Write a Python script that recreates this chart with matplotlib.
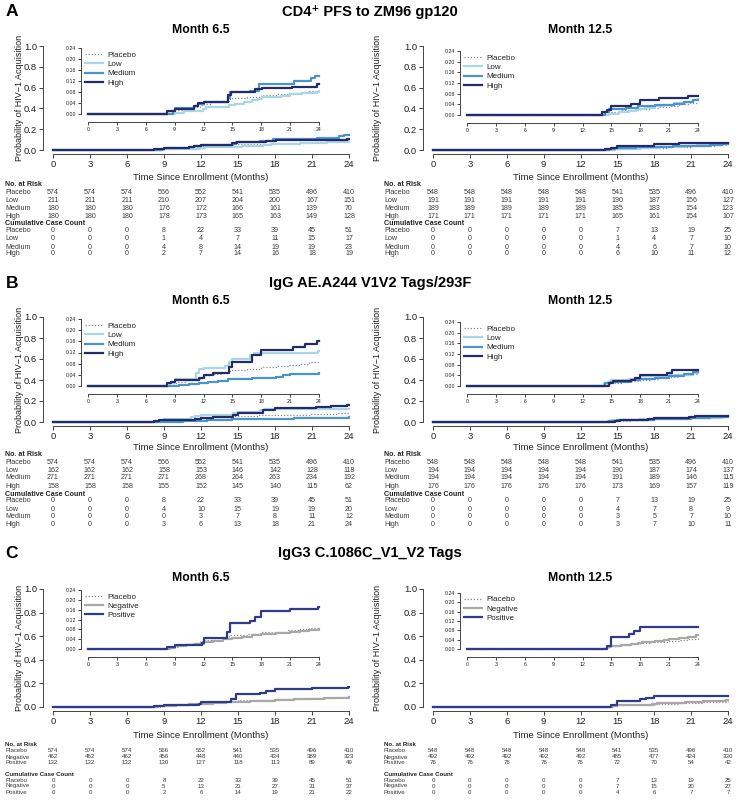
import matplotlib
matplotlib.use("Agg")
import matplotlib.pyplot as plt
from matplotlib.lines import Line2D
from matplotlib.transforms import blended_transform_factory

plt.rcParams['font.family'] = ['Liberation Sans', 'DejaVu Sans']

# ---------------- data ----------------
months = [0, 3, 6, 9, 12, 15, 18, 21, 24]
dose_groups = ['Placebo', 'Low', 'Medium', 'High']
tag_groups = ['Placebo', 'Negative', 'Positive']

# placebo curves (shared by all panels)
plac65_t = [0, 8.3, 8.8, 9.3, 10.2, 11.0, 11.6, 12.0, 12.8, 13.8, 14.6, 15.0, 16.5, 18.0, 19.5, 20.8, 22.0, 23.0, 24.0]
plac65_p = [0, 0.004, 0.009, 0.014, 0.020, 0.026, 0.032, 0.038, 0.044, 0.049, 0.055, 0.058, 0.062, 0.068, 0.071, 0.076, 0.080, 0.085, 0.089]
plac125_t = [0, 14.2, 14.6, 15.0, 16.0, 17.0, 18.0, 19.0, 20.0, 21.0, 22.0, 23.0, 24.0]
plac125_p = [0, 0.004, 0.009, 0.013, 0.017, 0.020, 0.024, 0.028, 0.031, 0.035, 0.040, 0.045, 0.049]

# panel A, month 6.5
a65_low_t = [0, 9.0, 10.0, 11.9, 12.3, 14.6, 15.3, 16.2, 17.0, 17.7, 18.1, 20.0, 21.0, 22.2, 23.8, 24.0]
a65_low_p = [0, 0.005, 0.010, 0.020, 0.026, 0.031, 0.036, 0.042, 0.050, 0.056, 0.061, 0.066, 0.071, 0.076, 0.081, 0.085]
a65_med_t = [0, 8.8, 9.0, 11.0, 11.4, 12.0, 14.5, 14.8, 16.8, 17.8, 21.4, 23.2, 23.6, 24.0]
a65_med_p = [0, 0.010, 0.022, 0.030, 0.036, 0.045, 0.058, 0.080, 0.085, 0.110, 0.120, 0.130, 0.140, 0.140]
a65_high_t = [0, 8.2, 9.0, 11.0, 11.4, 12.0, 14.5, 14.9, 17.3, 18.1, 21.2, 23.8, 24.0]
a65_high_p = [0, 0.010, 0.020, 0.030, 0.040, 0.045, 0.068, 0.080, 0.090, 0.095, 0.100, 0.110, 0.110]
# panel A, month 12.5
a125_low_t = [0, 14.8, 15.8, 16.8, 17.6, 18.5, 19.5, 20.5, 21.5, 22.5, 23.5, 24.0]
a125_low_p = [0, 0.005, 0.010, 0.016, 0.021, 0.027, 0.033, 0.038, 0.044, 0.050, 0.056, 0.060]
a125_med_t = [0, 14.3, 14.8, 16.5, 17.8, 19.5, 21.5, 22.5, 23.5, 24.0]
a125_med_p = [0, 0.010, 0.021, 0.026, 0.032, 0.037, 0.042, 0.048, 0.055, 0.058]
a125_high_t = [0, 14.0, 14.5, 15.0, 17.0, 18.0, 20.0, 23.0, 24.0]
a125_high_p = [0, 0.010, 0.020, 0.035, 0.040, 0.058, 0.065, 0.072, 0.072]

# panel B, month 6.5
b65_low_t = [0, 8.5, 9.0, 11.2, 11.5, 12.0, 14.2, 14.6, 15.0, 16.8, 17.2, 23.9, 24.0]
b65_low_p = [0, 0.012, 0.025, 0.045, 0.060, 0.065, 0.070, 0.085, 0.095, 0.110, 0.120, 0.125, 0.125]
b65_med_t = [0, 9.5, 10.5, 11.5, 12.5, 13.5, 14.5, 17.0, 19.5, 20.3, 21.0, 24.0]
b65_med_p = [0, 0.004, 0.008, 0.011, 0.015, 0.019, 0.026, 0.030, 0.034, 0.038, 0.042, 0.046]
b65_high_t = [0, 8.2, 8.6, 9.0, 11.5, 12.0, 13.0, 14.6, 15.0, 17.0, 18.0, 21.3, 22.5, 23.8, 24.0]
b65_high_p = [0, 0.010, 0.015, 0.020, 0.030, 0.038, 0.045, 0.068, 0.085, 0.110, 0.130, 0.140, 0.150, 0.160, 0.160]
# panel B, month 12.5
b125_low_t = [0, 14.2, 14.6, 15.0, 16.8, 17.5, 18.0, 21.0, 23.5, 24.0]
b125_low_p = [0, 0.010, 0.016, 0.021, 0.026, 0.031, 0.036, 0.042, 0.048, 0.048]
b125_med_t = [0, 14.3, 15.0, 17.0, 18.0, 19.5, 21.0, 22.5, 23.5, 24.0]
b125_med_p = [0, 0.010, 0.015, 0.021, 0.026, 0.031, 0.037, 0.044, 0.052, 0.055]
b125_high_t = [0, 14.8, 15.2, 17.0, 17.5, 18.0, 20.8, 21.3, 24.0]
b125_high_p = [0, 0.010, 0.017, 0.023, 0.030, 0.042, 0.050, 0.060, 0.060]

# panel C, month 6.5
c65_neg_t = [0, 8.5, 9.0, 10.0, 11.0, 12.0, 13.0, 14.0, 15.0, 16.0, 17.0, 18.0, 19.5, 21.0, 22.0, 23.0, 24.0]
c65_neg_p = [0, 0.006, 0.011, 0.016, 0.022, 0.028, 0.034, 0.040, 0.046, 0.050, 0.055, 0.060, 0.064, 0.069, 0.074, 0.079, 0.083]
c65_pos_t = [0, 8.2, 9.0, 11.8, 12.0, 14.4, 14.8, 16.8, 17.3, 18.0, 21.0, 23.9, 24.0]
c65_pos_p = [0, 0.008, 0.015, 0.023, 0.046, 0.068, 0.107, 0.115, 0.132, 0.155, 0.163, 0.172, 0.172]
# panel C, month 12.5
c125_neg_t = [0, 14.5, 15.0, 16.0, 17.0, 17.8, 18.2, 19.5, 20.5, 21.0, 22.0, 23.0, 23.8, 24.0]
c125_neg_p = [0, 0.007, 0.014, 0.017, 0.020, 0.026, 0.031, 0.035, 0.040, 0.042, 0.047, 0.052, 0.058, 0.058]
c125_pos_t = [0, 14.5, 15.0, 16.8, 17.3, 18.0, 24.0]
c125_pos_p = [0, 0.013, 0.053, 0.066, 0.079, 0.093, 0.093]

# number at risk / cumulative case counts
plac65_risk = [574, 574, 574, 566, 552, 541, 535, 496, 410]
plac65_case = [0, 0, 0, 8, 22, 33, 39, 45, 51]
plac125_risk = [548, 548, 548, 548, 548, 541, 535, 496, 410]
plac125_case = [0, 0, 0, 0, 0, 7, 13, 19, 25]

a65_risk = {'Low': [211, 211, 211, 210, 207, 204, 200, 167, 151],
            'Medium': [180, 180, 180, 176, 172, 166, 161, 139, 70],
            'High': [180, 180, 180, 178, 173, 165, 163, 149, 128]}
a65_case = {'Low': [0, 0, 0, 1, 4, 7, 11, 15, 17],
            'Medium': [0, 0, 0, 4, 8, 14, 19, 19, 23],
            'High': [0, 0, 0, 2, 7, 14, 16, 18, 19]}
a125_risk = {'Low': [191, 191, 191, 191, 191, 190, 187, 156, 127],
             'Medium': [189, 189, 189, 189, 189, 185, 183, 154, 123],
             'High': [171, 171, 171, 171, 171, 165, 161, 154, 107]}
a125_case = {'Low': [0, 0, 0, 0, 0, 1, 4, 7, 10],
             'Medium': [0, 0, 0, 0, 0, 4, 6, 7, 10],
             'High': [0, 0, 0, 0, 0, 6, 10, 11, 12]}
b65_risk = {'Low': [162, 162, 162, 158, 153, 146, 142, 128, 118],
            'Medium': [271, 271, 271, 271, 268, 264, 263, 234, 192],
            'High': [158, 158, 158, 155, 152, 145, 140, 115, 62]}
b65_case = {'Low': [0, 0, 0, 4, 10, 15, 19, 19, 20],
            'Medium': [0, 0, 0, 0, 3, 7, 8, 11, 12],
            'High': [0, 0, 0, 3, 6, 13, 18, 21, 24]}
b125_risk = {'Low': [194, 194, 194, 194, 194, 190, 187, 174, 137],
             'Medium': [194, 194, 194, 194, 194, 191, 189, 146, 115],
             'High': [176, 176, 176, 176, 176, 173, 169, 157, 119]}
b125_case = {'Low': [0, 0, 0, 0, 0, 4, 7, 8, 9],
             'Medium': [0, 0, 0, 0, 0, 3, 5, 7, 10],
             'High': [0, 0, 0, 0, 0, 3, 7, 10, 11]}
c65_risk = {'Negative': [462, 462, 462, 456, 448, 440, 434, 389, 323],
            'Positive': [132, 132, 132, 130, 127, 118, 113, 89, 49]}
c65_case = {'Negative': [0, 0, 0, 5, 13, 21, 27, 31, 37],
            'Positive': [0, 0, 0, 2, 6, 14, 19, 21, 22]}
c125_risk = {'Negative': [492, 492, 492, 492, 492, 485, 477, 424, 330],
             'Positive': [76, 76, 76, 76, 76, 72, 70, 54, 42]}
c125_case = {'Negative': [0, 0, 0, 0, 0, 7, 15, 20, 27],
             'Positive': [0, 0, 0, 0, 0, 4, 6, 7, 7]}

styles = {
    'Placebo': dict(color='#8a8a8a', lw=0.9, ls=(0, (1, 1.5))),
    'Low': dict(color='#a9d6e8', lw=1.6, ls='-'),
    'Medium': dict(color='#4b94cb', lw=1.6, ls='-'),
    'High': dict(color='#252b66', lw=1.6, ls='-'),
    'Negative': dict(color='#a8a8a8', lw=1.6, ls='-'),
    'Positive': dict(color='#2f3b88', lw=1.6, ls='-'),
}

# ---------------- layout ----------------
W, H = 740, 802
fig = plt.figure(figsize=(W / 100, H / 100), dpi=100)
TXT = '#222222'
AXC = '#444444'


def rect(x0, y0, x1, y1):
    return [x0 / W, 1 - y1 / H, (x1 - x0) / W, (y1 - y0) / H]


def fy(y):
    return 1 - y / H


def style(ax, fs, out_l, out_b, tlen):
    for s in ['top', 'right']:
        ax.spines[s].set_visible(False)
    for s in ['left', 'bottom']:
        ax.spines[s].set_color(AXC)
        ax.spines[s].set_linewidth(0.7)
    ax.spines['left'].set_position(('outward', out_l))
    ax.spines['bottom'].set_position(('outward', out_b))
    ax.tick_params(colors=AXC, labelcolor=TXT, labelsize=fs, length=tlen,
                   width=0.7, pad=1.5)
    ax.set_facecolor('none')


def draw(ax, curves, inset):
    for name, t, p in curves:
        st = styles[name]
        ax.step(t, p, where='post', color=st['color'], lw=st['lw'],
                ls=st['ls'], clip_on=False, label=name)
    ax.set_xlim(0, 24)
    ax.set_xticks(months)
    if inset:
        ax.set_ylim(0, 0.24)
        ax.set_yticks([0, 0.04, 0.08, 0.12, 0.16, 0.20, 0.24])
        ax.set_yticklabels(['0.00', '0.04', '0.08', '0.12', '0.16', '0.20', '0.24'])
        style(ax, 3.8, 5, 6, 2)
        handles = [Line2D([], [], color=styles[n]['color'], lw=styles[n]['lw'],
                          ls=styles[n]['ls']) for n, _, _ in curves]
        ax.legend(handles, [n for n, _, _ in curves], loc='upper left',
                  bbox_to_anchor=(-0.015, 0.95), frameon=False, fontsize=5.8,
                  borderpad=0, borderaxespad=0, labelspacing=0.2,
                  handlelength=2.3, handletextpad=0.5, labelcolor=TXT)
    else:
        ax.set_ylim(0, 1)
        ax.set_yticks([0, 0.2, 0.4, 0.6, 0.8, 1.0])
        ax.set_yticklabels(['0.0', '0.2', '0.4', '0.6', '0.8', '1.0'])
        style(ax, 6.8, 7, 3, 3)


def table(ax, groups, risk, case, rows_y, xlab, fs):
    tr = blended_transform_factory(ax.transData, fig.transFigure)
    labels = ['No. at Risk'] + groups + ['Cumulative Case Count'] + groups
    vals = [None] + risk + [None] + case
    for lab, v, y in zip(labels, vals, rows_y):
        if v is None:
            fig.text(xlab / W, fy(y), lab, fontsize=fs, fontweight='bold',
                     color=TXT, va='center', ha='left')
            continue
        fig.text(xlab / W, fy(y), lab, fontsize=fs, color='#3a3a3a',
                 va='center', ha='left')
        for m, n in zip(months, v):
            ax.text(m, fy(y), str(n), transform=tr, fontsize=fs,
                    color='#3a3a3a', va='center', ha='center')


panels = [
    dict(letter='A', title='CD4\u207a PFS to ZM96 gp120', y_title=12, y_month=30,
         main=(46, 150), ins_l=(48, 114), ins_r=(51, 115), y_xlab=177, tfs=5.1,
         rows=[185, 193, 201, 208, 216, 224, 231, 239, 247, 254], groups=dose_groups,
         left=[('Placebo', plac65_t, plac65_p), ('Low', a65_low_t, a65_low_p),
               ('Medium', a65_med_t, a65_med_p), ('High', a65_high_t, a65_high_p)],
         right=[('Placebo', plac125_t, plac125_p), ('Low', a125_low_t, a125_low_p),
                ('Medium', a125_med_t, a125_med_p), ('High', a125_high_t, a125_high_p)],
         risk_l=a65_risk, case_l=a65_case, risk_r=a125_risk, case_r=a125_case),
    dict(letter='B', title='IgG AE.A244 V1V2 Tags/293F', y_title=283, y_month=301,
         main=(317, 422), ins_l=(319, 386), ins_r=(322, 386), y_xlab=447, tfs=5.1,
         rows=[455, 463, 471, 478, 486, 494, 501, 509, 517, 524], groups=dose_groups,
         left=[('Placebo', plac65_t, plac65_p), ('Low', b65_low_t, b65_low_p),
               ('Medium', b65_med_t, b65_med_p), ('High', b65_high_t, b65_high_p)],
         right=[('Placebo', plac125_t, plac125_p), ('Low', b125_low_t, b125_low_p),
                ('Medium', b125_med_t, b125_med_p), ('High', b125_high_t, b125_high_p)],
         risk_l=b65_risk, case_l=b65_case, risk_r=b125_risk, case_r=b125_case),
    dict(letter='C', title='IgG3 C.1086C_V1_V2 Tags', y_title=553, y_month=578,
         main=(589, 707), ins_l=(590, 649), ins_r=(593, 649), y_xlab=736, tfs=4.4,
         rows=[744, 751, 757, 763, 774, 780, 786, 792], groups=tag_groups,
         left=[('Placebo', plac65_t, plac65_p), ('Negative', c65_neg_t, c65_neg_p),
               ('Positive', c65_pos_t, c65_pos_p)],
         right=[('Placebo', plac125_t, plac125_p), ('Negative', c125_neg_t, c125_neg_p),
                ('Positive', c125_pos_t, c125_pos_p)],
         risk_l=c65_risk, case_l=c65_case, risk_r=c125_risk, case_r=c125_case),
]

for pan in panels:
    fig.text(12 / W, fy(pan['y_title']), pan['letter'], fontsize=12.5,
             fontweight='bold', color='black', ha='center', va='center')
    fig.text(370 / W, fy(pan['y_title']), pan['title'], fontsize=10.5,
             fontweight='bold', color='black', ha='center', va='center')
    for side, x0, x1, ix0, ix1, ylx, labx, month in [
            ('l', 53, 349, 88, 319, 20, 5, 'Month 6.5'),
            ('r', 433, 728, 467, 698, 377, 384, 'Month 12.5')]:
        curves = pan['left'] if side == 'l' else pan['right']
        ins = pan['ins_l'] if side == 'l' else pan['ins_r']
        ax = fig.add_axes(rect(x0, pan['main'][0], x1, pan['main'][1]))
        draw(ax, curves, inset=False)
        axi = fig.add_axes(rect(ix0, ins[0], ix1, ins[1]))
        draw(axi, curves, inset=True)
        xc = (x0 + x1) / 2
        fig.text(xc / W, fy(pan['y_month']), month, fontsize=8.8,
                 fontweight='bold', color='black', ha='center', va='center')
        fig.text(xc / W, fy(pan['y_xlab']), 'Time Since Enrollment (Months)',
                 fontsize=6.8, color=TXT, ha='center', va='center')
        yc = (pan['main'][0] + pan['main'][1]) / 2
        fig.text(ylx / W, fy(yc), 'Probability of HIV\u22121 Acquisition',
                 fontsize=6.5, color=TXT, ha='center', va='center', rotation=90)
        rk = pan['risk_l'] if side == 'l' else pan['risk_r']
        cs = pan['case_l'] if side == 'l' else pan['case_r']
        plac_r = plac65_risk if side == 'l' else plac125_risk
        plac_c = plac65_case if side == 'l' else plac125_case
        g = pan['groups']
        risk = [plac_r] + [rk[n] for n in g[1:]]
        case = [plac_c] + [cs[n] for n in g[1:]]
        table(ax, g, risk, case, pan['rows'], labx, pan['tfs'])

fig.savefig('out.png', dpi=100, facecolor='white')
